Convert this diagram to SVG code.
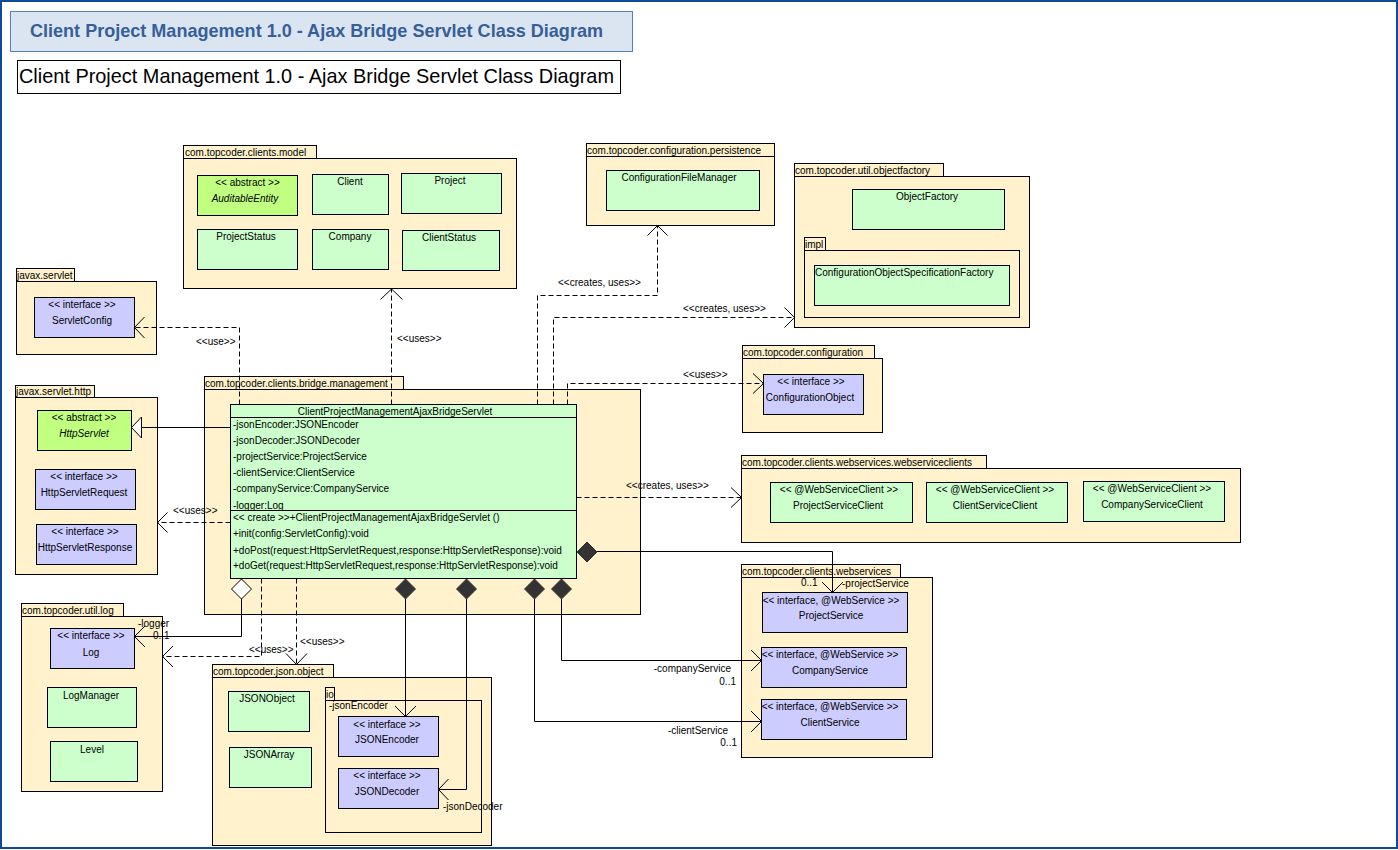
<svg xmlns="http://www.w3.org/2000/svg" width="1398" height="850" viewBox="0 0 1398 850">
<style>
.pkg{fill:#fff2cc;stroke:#000;stroke-width:1}
.cls{fill:#ccffcc;stroke:#000;stroke-width:1}
.abs{fill:#c0ff80;stroke:#000;stroke-width:1}
.ifc{fill:#ccccff;stroke:#000;stroke-width:1}
.t{font-family:"Liberation Sans",Arial,sans-serif;font-size:10px;fill:#000}
.c{text-anchor:middle}
.e{text-anchor:end}
.i{font-style:italic}
.dash{fill:none;stroke:#000;stroke-width:1;stroke-dasharray:5,3}
.ln{fill:none;stroke:#000;stroke-width:1}
.fd{fill:#333;stroke:#333;stroke-width:1}
.hd{fill:#fff;stroke:#000;stroke-width:1}
</style>
<rect x="1" y="1" width="1396" height="847" fill="#fff" stroke="#0f4a9a" stroke-width="2"/>
<g id="title-banner">
<rect x="10.5" y="11.5" width="622" height="40" fill="#dbe5f1" stroke="#4f81bd"/>
<text x="30" y="37" font-family="Liberation Sans,Arial,sans-serif" font-size="18.5" font-weight="bold" fill="#365f99" textLength="573" lengthAdjust="spacingAndGlyphs">Client Project Management 1.0 - Ajax Bridge Servlet Class Diagram</text>
</g>
<g id="title-box">
<rect x="17.5" y="60.5" width="603" height="33" fill="#fff" stroke="#000"/>
<text x="19" y="83" font-family="Liberation Sans,Arial,sans-serif" font-size="21" fill="#000" textLength="595" lengthAdjust="spacingAndGlyphs">Client Project Management 1.0 - Ajax Bridge Servlet Class Diagram</text>
</g>

<g id="pkg-model">
<rect class="pkg" x="183.5" y="145.5" width="133" height="13"/>
<rect class="pkg" x="183.5" y="158.5" width="333" height="130"/>
<text class="t" x="185" y="156">com.topcoder.clients.model</text>
</g>
<g id="AuditableEntity"><rect class="abs" x="197.5" y="175.5" width="100" height="40"/><text class="t c" x="247.5" y="186">&lt;&lt; abstract &gt;&gt;</text><text class="t c i" x="245" y="202">AuditableEntity</text></g>
<g id="Client"><rect class="cls" x="312.5" y="174.5" width="76" height="40"/><text class="t c" x="350" y="185">Client</text></g>
<g id="Project"><rect class="cls" x="401.5" y="173.5" width="100" height="40"/><text class="t c" x="450" y="184">Project</text></g>
<g id="ProjectStatus"><rect class="cls" x="197.5" y="229.5" width="100" height="40"/><text class="t c" x="246" y="240">ProjectStatus</text></g>
<g id="Company"><rect class="cls" x="312.5" y="229.5" width="76" height="40"/><text class="t c" x="350" y="240">Company</text></g>
<g id="ClientStatus"><rect class="cls" x="402.5" y="230.5" width="97" height="40"/><text class="t c" x="449" y="241">ClientStatus</text></g>

<g id="pkg-servlet">
<rect class="pkg" x="16.5" y="268.5" width="58" height="13"/>
<rect class="pkg" x="16.5" y="281.5" width="140" height="73"/>
<text class="t" x="17" y="279">javax.servlet</text>
</g>
<g id="ServletConfig"><rect class="ifc" x="34.5" y="297.5" width="100" height="40"/><text class="t c" x="82" y="308">&lt;&lt; interface &gt;&gt;</text><text class="t c" x="82" y="324">ServletConfig</text></g>

<g id="pkg-servlet-http">
<rect class="pkg" x="15.5" y="385.5" width="79" height="12"/>
<rect class="pkg" x="15.5" y="397.5" width="142" height="177"/>
<text class="t" x="16" y="395">javax.servlet.http</text>
</g>
<g id="HttpServlet"><rect class="abs" x="37.5" y="410.5" width="94" height="40"/><text class="t c" x="84" y="421">&lt;&lt; abstract &gt;&gt;</text><text class="t c i" x="84" y="437">HttpServlet</text></g>
<g id="HttpServletRequest"><rect class="ifc" x="35.5" y="469.5" width="100" height="40"/><text class="t c" x="84" y="480">&lt;&lt; interface &gt;&gt;</text><text class="t c" x="84" y="496">HttpServletRequest</text></g>
<g id="HttpServletResponse"><rect class="ifc" x="36.5" y="524.5" width="100" height="40"/><text class="t c" x="85" y="535">&lt;&lt; interface &gt;&gt;</text><text class="t c" x="85" y="551">HttpServletResponse</text></g>

<g id="pkg-bridge">
<rect class="pkg" x="204.5" y="376.5" width="199" height="13"/>
<rect class="pkg" x="204.5" y="389.5" width="436" height="225"/>
<text class="t" x="205" y="387">com.topcoder.clients.bridge.management</text>
</g>
<g id="ClientProjectManagementAjaxBridgeServlet">
<rect class="cls" x="230.5" y="404.5" width="346" height="174"/>
<line class="ln" x1="230.5" y1="417.5" x2="576.5" y2="417.5"/>
<line class="ln" x1="230.5" y1="510.5" x2="576.5" y2="510.5"/>
<text class="t c" x="395" y="415">ClientProjectManagementAjaxBridgeServlet</text>
<text class="t" x="233" y="428">-jsonEncoder:JSONEncoder</text>
<text class="t" x="233" y="444">-jsonDecoder:JSONDecoder</text>
<text class="t" x="233" y="460">-projectService:ProjectService</text>
<text class="t" x="233" y="476">-clientService:ClientService</text>
<text class="t" x="233" y="492">-companyService:CompanyService</text>
<text class="t" x="233" y="508.5">-logger:Log</text>
<text class="t" x="233" y="520.5">&lt;&lt; create &gt;&gt;+ClientProjectManagementAjaxBridgeServlet ()</text>
<text class="t" x="233" y="537">+init(config:ServletConfig):void</text>
<text class="t" x="233" y="553.5">+doPost(request:HttpServletRequest,response:HttpServletResponse):void</text>
<text class="t" x="233" y="569">+doGet(request:HttpServletRequest,response:HttpServletResponse):void</text>
</g>

<g id="pkg-persistence">
<rect class="pkg" x="586.5" y="143.5" width="188" height="13"/>
<rect class="pkg" x="586.5" y="156.5" width="188" height="69"/>
<text class="t" x="587" y="154">com.topcoder.configuration.persistence</text>
</g>
<g id="ConfigurationFileManager"><rect class="cls" x="606.5" y="170.5" width="153" height="40"/><text class="t c" x="679" y="181">ConfigurationFileManager</text></g>

<g id="pkg-objectfactory">
<rect class="pkg" x="794.5" y="163.5" width="149" height="13"/>
<rect class="pkg" x="794.5" y="176.5" width="235" height="151"/>
<text class="t" x="795" y="174">com.topcoder.util.objectfactory</text>
</g>
<g id="ObjectFactory"><rect class="cls" x="852.5" y="189.5" width="152" height="40"/><text class="t c" x="927" y="200">ObjectFactory</text></g>
<g id="pkg-impl">
<rect class="pkg" x="804.5" y="237.5" width="21" height="13"/>
<rect class="pkg" x="804.5" y="250.5" width="215" height="67"/>
<text class="t" x="805" y="248">impl</text>
</g>
<g id="ConfigurationObjectSpecificationFactory"><rect class="cls" x="814.5" y="265.5" width="195" height="40"/><text class="t" x="815" y="276">ConfigurationObjectSpecificationFactory</text></g>

<g id="pkg-configuration">
<rect class="pkg" x="742.5" y="345.5" width="132" height="13"/>
<rect class="pkg" x="742.5" y="358.5" width="140" height="74"/>
<text class="t" x="743" y="356">com.topcoder.configuration</text>
</g>
<g id="ConfigurationObject"><rect class="ifc" x="763.5" y="374.5" width="100" height="40"/><text class="t c" x="811" y="385">&lt;&lt; interface &gt;&gt;</text><text class="t c" x="810" y="401">ConfigurationObject</text></g>

<g id="pkg-webserviceclients">
<rect class="pkg" x="741.5" y="455.5" width="245" height="13"/>
<rect class="pkg" x="741.5" y="468.5" width="499" height="74"/>
<text class="t" x="742" y="466">com.topcoder.clients.webservices.webserviceclients</text>
</g>
<g id="ProjectServiceClient"><rect class="cls" x="770.5" y="482.5" width="142" height="40"/><text class="t c" x="839" y="493">&lt;&lt; @WebServiceClient &gt;&gt;</text><text class="t c" x="838" y="509">ProjectServiceClient</text></g>
<g id="ClientServiceClient"><rect class="cls" x="926.5" y="482.5" width="141" height="40"/><text class="t c" x="995" y="493">&lt;&lt; @WebServiceClient &gt;&gt;</text><text class="t c" x="995" y="509">ClientServiceClient</text></g>
<g id="CompanyServiceClient"><rect class="cls" x="1083.5" y="481.5" width="141" height="40"/><text class="t c" x="1152" y="492">&lt;&lt; @WebServiceClient &gt;&gt;</text><text class="t c" x="1152" y="508">CompanyServiceClient</text></g>

<g id="pkg-webservices">
<rect class="pkg" x="741.5" y="564.5" width="159" height="13"/>
<rect class="pkg" x="741.5" y="577.5" width="191" height="180"/>
<text class="t" x="742" y="575">com.topcoder.clients.webservices</text>
</g>
<g id="ProjectService"><rect class="ifc" x="762.5" y="592.5" width="145" height="40"/><text class="t c" x="831" y="603.5">&lt;&lt; interface, @WebService &gt;&gt;</text><text class="t c" x="831" y="619">ProjectService</text></g>
<g id="CompanyService"><rect class="ifc" x="761.5" y="647.5" width="145" height="40"/><text class="t c" x="830" y="658">&lt;&lt; interface, @WebService &gt;&gt;</text><text class="t c" x="830" y="674">CompanyService</text></g>
<g id="ClientService"><rect class="ifc" x="761.5" y="699.5" width="145" height="40"/><text class="t c" x="830" y="710">&lt;&lt; interface, @WebService &gt;&gt;</text><text class="t c" x="830" y="726">ClientService</text></g>

<g id="pkg-log">
<rect class="pkg" x="21.5" y="603.5" width="102" height="13"/>
<rect class="pkg" x="21.5" y="616.5" width="141" height="175"/>
<text class="t" x="22" y="613.5">com.topcoder.util.log</text>
</g>
<g id="Log"><rect class="ifc" x="50.5" y="628.5" width="84" height="40"/><text class="t c" x="91" y="639">&lt;&lt; interface &gt;&gt;</text><text class="t c" x="91" y="655.5">Log</text></g>
<g id="LogManager"><rect class="cls" x="47.5" y="687.5" width="89" height="40"/><text class="t c" x="91" y="698.5">LogManager</text></g>
<g id="Level"><rect class="cls" x="50.5" y="741.5" width="87" height="40"/><text class="t c" x="92" y="752.5">Level</text></g>

<g id="pkg-json">
<rect class="pkg" x="212.5" y="664.5" width="121" height="13"/>
<rect class="pkg" x="212.5" y="677.5" width="279" height="168"/>
<text class="t" x="213" y="675">com.topcoder.json.object</text>
</g>
<g id="JSONObject"><rect class="cls" x="228.5" y="691.5" width="81" height="40"/><text class="t c" x="267" y="702">JSONObject</text></g>
<g id="JSONArray"><rect class="cls" x="229.5" y="747.5" width="82" height="40"/><text class="t c" x="269" y="758">JSONArray</text></g>
<g id="pkg-io">
<rect class="pkg" x="325.5" y="687.5" width="9" height="13"/>
<rect class="pkg" x="325.5" y="700.5" width="156" height="132"/>
<text class="t" x="326" y="698">io</text>
</g>
<g id="JSONEncoder"><rect class="ifc" x="338.5" y="716.5" width="100" height="40"/><text class="t c" x="387" y="727.5">&lt;&lt; interface &gt;&gt;</text><text class="t c" x="387" y="743">JSONEncoder</text></g>
<g id="JSONDecoder"><rect class="ifc" x="338.5" y="768.5" width="100" height="40"/><text class="t c" x="387" y="779">&lt;&lt; interface &gt;&gt;</text><text class="t c" x="387" y="795">JSONDecoder</text></g>

<g id="connectors">
<line class="ln" x1="230.5" y1="427.5" x2="141.5" y2="427.5"/>
<polygon class="hd" points="131.5,427.5 141.5,417 141.5,438"/>
<path class="dash" d="M230.5,522.5 H157.5"/>
<path class="ln" d="M167.5,512.5 L157.5,522.5 L167.5,532.5"/>
<path class="dash" d="M239.5,404.5 V327.5 H134.5"/>
<path class="ln" d="M144.5,317 L134.5,327.5 L144.5,338"/>
<path class="dash" d="M391.5,404.5 V289"/>
<path class="ln" d="M380.5,299.5 L391.5,289 L402.5,299.5"/>
<path class="dash" d="M537.5,404.5 V295.5 H657.5 V225.5"/>
<path class="ln" d="M647.5,235.5 L657.5,225.5 L667.5,235.5"/>
<path class="dash" d="M553.5,404.5 V317.5 H794.5"/>
<path class="ln" d="M784.5,307.5 L794.5,317.5 L784.5,327.5"/>
<path class="dash" d="M567.5,404.5 V383.5 H763.5"/>
<path class="ln" d="M753,373.5 L763.5,383.5 L753,393.5"/>
<path class="dash" d="M576.5,497.5 H741.5"/>
<path class="ln" d="M731,487.5 L741.5,497.5 L731,507.5"/>
<path class="ln" d="M597,551.5 H832.5 V592.5"/>
<path class="ln" d="M822,582 L832.5,592.5 L843,582"/>
<polygon class="fd" points="577,552 587,542 597,552 587,562"/>
<path class="ln" d="M561.5,599 V660.5 H761.5"/>
<path class="ln" d="M751,650 L761.5,660.5 L751,671"/>
<polygon class="fd" points="551.5,589 561.5,579 571.5,589 561.5,599"/>
<path class="ln" d="M534.5,599 V721.5 H761.5"/>
<path class="ln" d="M751,711 L761.5,721.5 L751,732"/>
<polygon class="fd" points="524.5,589 534.5,579 544.5,589 534.5,599"/>
<path class="ln" d="M405.5,599 V716.5"/>
<path class="ln" d="M395,706 L405.5,716.5 L416,706"/>
<polygon class="fd" points="395.5,589 405.5,579 415.5,589 405.5,599"/>
<path class="ln" d="M466.5,599 V789.5 H438.5"/>
<path class="ln" d="M448.5,779 L438.5,789.5 L448.5,800"/>
<polygon class="fd" points="456.5,589 466.5,579 476.5,589 466.5,599"/>
<path class="ln" d="M241.5,599 V636.5 H134.5"/>
<path class="ln" d="M145,626 L134.5,636.5 L145,647"/>
<polygon class="hd" points="231.5,589 241.5,579 251.5,589 241.5,599"/>
<path class="dash" d="M261.5,578.5 V656.5 H162.5"/>
<path class="ln" d="M173,646 L162.5,656.5 L173,667"/>
<path class="dash" d="M296.5,578.5 V664.5"/>
<path class="ln" d="M286,653.5 L296.5,664.5 L307,653.5"/>
<text class="t" x="196" y="345">&lt;&lt;use&gt;&gt;</text>
<text class="t" x="397" y="342">&lt;&lt;uses&gt;&gt;</text>
<text class="t" x="558" y="286">&lt;&lt;creates, uses&gt;&gt;</text>
<text class="t" x="683" y="312">&lt;&lt;creates, uses&gt;&gt;</text>
<text class="t" x="683" y="378">&lt;&lt;uses&gt;&gt;</text>
<text class="t" x="626" y="489">&lt;&lt;creates, uses&gt;&gt;</text>
<text class="t" x="173" y="514">&lt;&lt;uses&gt;&gt;</text>
<text class="t" x="801" y="586">0..1</text>
<text class="t" x="842" y="587">-projectService</text>
<text class="t e" x="731" y="672">-companyService</text>
<text class="t e" x="736" y="685">0..1</text>
<text class="t e" x="728" y="734">-clientService</text>
<text class="t e" x="737" y="746">0..1</text>
<text class="t" x="138" y="627">-logger</text>
<text class="t" x="153" y="639">0..1</text>
<text class="t" x="249" y="653">&lt;&lt;uses&gt;&gt;</text>
<text class="t" x="300" y="645">&lt;&lt;uses&gt;&gt;</text>
<text class="t" x="329" y="708.5">-jsonEncoder</text>
<text class="t" x="443" y="809.5">-jsonDecoder</text>
</g>
</svg>
